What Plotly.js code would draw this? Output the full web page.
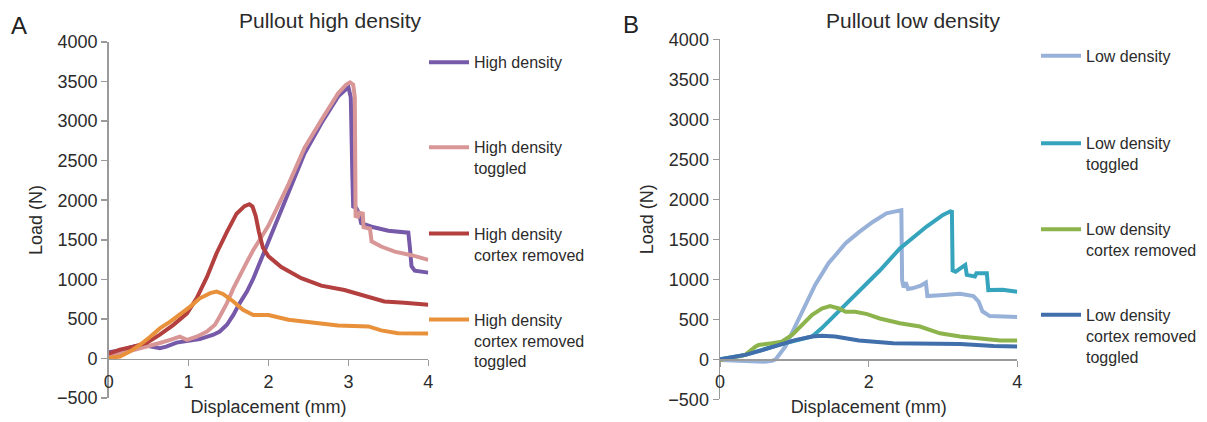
<!DOCTYPE html>
<html>
<head>
<meta charset="utf-8">
<script src="https://cdn.plot.ly/plotly-3.0.1.min.js"></script>
<style>html,body{margin:0;padding:0;background:#fff;}#chart{width:1207px;height:422px;}</style>
</head>
<body>
<div id="chart"></div>
<script>
// ---- Panel A: Pullout high density ----
const hdX = [0, 0.14, 0.31, 0.48, 0.64, 0.72, 0.85, 0.98, 1.14, 1.31, 1.39, 1.48, 1.56, 1.64, 1.73, 1.81, 1.87, 1.95, 2.0, 2.25, 2.45, 2.66, 2.87, 3.0, 3.03, 3.05, 3.06, 3.1, 3.13, 3.16, 3.29, 3.5, 3.75, 3.77, 3.79, 3.83, 4.0];
const hdY = [80, 100, 150, 160, 130, 150, 200, 215, 245, 300, 340, 425, 550, 700, 845, 1010, 1160, 1350, 1470, 2080, 2590, 2970, 3310, 3430, 3300, 2300, 1920, 1900, 1840, 1710, 1665, 1615, 1590, 1400, 1165, 1110, 1085];

const hdtX = [0, 0.14, 0.31, 0.48, 0.64, 0.77, 0.89, 0.98, 1.1, 1.23, 1.33, 1.39, 1.48, 1.56, 1.64, 1.73, 1.81, 1.9, 2.0, 2.25, 2.45, 2.66, 2.87, 2.97, 3.02, 3.06, 3.08, 3.09, 3.12, 3.14, 3.18, 3.19, 3.27, 3.29, 3.41, 3.58, 3.79, 4.0];
const hdtY = [25, 60, 110, 150, 195, 235, 275, 235, 275, 340, 425, 530, 700, 885, 1055, 1220, 1370, 1510, 1680, 2200, 2660, 3010, 3350, 3460, 3490, 3460, 3300, 1800, 1790, 1840, 1830, 1660, 1640, 1480, 1415, 1350, 1305, 1245];

const hdcX = [0, 0.14, 0.31, 0.48, 0.64, 0.81, 0.98, 1.1, 1.23, 1.35, 1.48, 1.6, 1.7, 1.76, 1.8, 1.84, 1.88, 1.93, 2.0, 2.16, 2.41, 2.66, 2.95, 3.16, 3.45, 3.7, 4.0];
const hdcY = [60, 110, 150, 200, 300, 425, 570, 760, 1030, 1330, 1600, 1830, 1925, 1950, 1920, 1800, 1600, 1400, 1290, 1155, 1015, 920, 865, 805, 720, 705, 680];

const hdctX = [0, 0.14, 0.27, 0.39, 0.52, 0.64, 0.77, 0.89, 1.02, 1.14, 1.27, 1.35, 1.43, 1.56, 1.68, 1.81, 1.89, 2.0, 2.25, 2.58, 2.87, 3.25, 3.41, 3.62, 4.0];
const hdctY = [5, 25, 90, 170, 275, 380, 465, 550, 655, 760, 825, 845, 815, 720, 615, 550, 550, 550, 490, 445, 415, 405, 355, 320, 315];

// ---- Panel B: Pullout low density ----
const ldX = [0, 0.2, 0.4, 0.6, 0.7, 0.75, 0.88, 1.01, 1.15, 1.28, 1.46, 1.69, 1.87, 2.06, 2.24, 2.33, 2.44, 2.45, 2.47, 2.5, 2.53, 2.6, 2.7, 2.77, 2.79, 2.96, 3.23, 3.41, 3.48, 3.53, 3.63, 4.0];
const ldY = [-10, -20, -30, -30, -20, 0, 160, 410, 680, 930, 1200, 1450, 1590, 1720, 1825, 1845, 1865, 990, 900, 960, 880, 890, 920, 960, 790, 800, 820, 790, 720, 600, 540, 530];

const ldtX = [0, 0.34, 0.79, 1.06, 1.24, 1.37, 1.51, 1.69, 1.87, 2.0, 2.15, 2.42, 2.78, 3.0, 3.1, 3.12, 3.13, 3.17, 3.23, 3.3, 3.32, 3.43, 3.45, 3.59, 3.61, 3.8, 4.0];
const ldtY = [0, 55, 180, 240, 285, 390, 520, 690, 860, 975, 1110, 1385, 1660, 1805, 1850, 1845, 1110, 1095, 1135, 1180, 1055, 1035, 1075, 1075, 865, 870, 845];

const ldcX = [0, 0.34, 0.48, 0.52, 0.7, 0.83, 0.97, 1.1, 1.24, 1.37, 1.48, 1.6, 1.69, 1.82, 1.98, 2.15, 2.42, 2.69, 2.96, 3.23, 3.5, 3.77, 4.0];
const ldcY = [-10, 55, 160, 180, 200, 220, 305, 430, 555, 635, 665, 635, 595, 595, 565, 510, 450, 410, 325, 285, 260, 235, 235];

const ldctX = [0, 0.34, 0.57, 0.79, 1.01, 1.24, 1.37, 1.55, 1.69, 1.87, 2.33, 2.78, 3.23, 3.68, 4.0];
const ldctY = [0, 55, 115, 180, 240, 285, 295, 285, 260, 235, 200, 190, 190, 165, 160];

const namesA = ['High density', 'High density<br>toggled', 'High density<br>cortex removed', 'High density<br>cortex removed<br>toggled'];
const namesB = ['Low density', 'Low density<br>toggled', 'Low density<br>cortex removed', 'Low density<br>cortex removed<br>toggled'];
const colorsA = ['#7659a8', '#d99696', '#b43f3f', '#e8913a'];
const colorsB = ['#98b1d8', '#36a4bd', '#8db44c', '#416fac'];

const W = 1207, H = 422;
const FONT = 'Liberation Sans, Arial, sans-serif';
const TXT = '#2b2b2b';
const AX = '#9a9a9a';

const seriesA = [[hdX, hdY], [hdtX, hdtY], [hdcX, hdcY], [hdctX, hdctY]];
const seriesB = [[ldX, ldY], [ldtX, ldtY], [ldcX, ldcY], [ldctX, ldctY]];

const traces = [];
seriesA.forEach((s, i) => traces.push({
  x: s[0], y: s[1], type: 'scatter', mode: 'lines', name: namesA[i],
  xaxis: 'x', yaxis: 'y', line: {color: colorsA[i], width: 4},
  legend: i === 0 ? 'legend' : 'legend' + (i + 1)
}));
seriesB.forEach((s, i) => traces.push({
  x: s[0], y: s[1], type: 'scatter', mode: 'lines', name: namesB[i],
  xaxis: 'x2', yaxis: 'y2', line: {color: colorsB[i], width: 4},
  legend: 'legend' + (i + 5)
}));

function px2x(p) { return p / W; }
function px2y(p) { return 1 - p / H; }

const legendTopsA = [60.7, 145.7, 232, 318];
const legendTopsB = [54.3, 141.7, 227.7, 313.3];

function mkLegend(xpx, lineY) {
  return {
    x: px2x(xpx), xanchor: 'left', y: px2y(lineY - 15.4), yanchor: 'top',
    bgcolor: 'rgba(0,0,0,0)', borderwidth: 0, valign: 'top', itemwidth: 40,
    font: {family: FONT, size: 16, color: TXT}, itemclick: false
  };
}

function mkX(domain, pos, dtick) {
  return {
    domain: domain, range: [0, 4], anchor: 'free', position: pos,
    dtick: dtick, tick0: 0, ticks: 'outside', ticklen: 6, tickcolor: AX, tickwidth: 1.5,
    showline: true, linecolor: AX, linewidth: 1.5, showgrid: false, zeroline: false,
    tickfont: {family: FONT, size: 18, color: TXT},
    title: {text: 'Displacement (mm)', font: {family: FONT, size: 18, color: TXT}, standoff: 9},
    fixedrange: true
  };
}
function mkY(domain, anchor) {
  return {
    domain: domain, range: [-500, 4000], anchor: anchor, dtick: 500, tick0: 0,
    ticks: 'outside', ticklen: 6, tickcolor: AX, tickwidth: 1.5,
    showline: true, linecolor: AX, linewidth: 1.5, showgrid: false, zeroline: false,
    tickfont: {family: FONT, size: 18, color: TXT},
    title: {text: 'Load (N)', font: {family: FONT, size: 18, color: TXT}, standoff: 10},
    fixedrange: true
  };
}

const layout = {
  width: W, height: H, margin: {l: 0, r: 0, t: 0, b: 0},
  paper_bgcolor: '#fff', plot_bgcolor: '#fff',
  font: {family: FONT, color: TXT},
  xaxis: mkX([px2x(108.7), px2x(428.3)], px2y(358.7), 1),
  yaxis: mkY([px2y(398), px2y(42)], 'x'),
  xaxis2: mkX([px2x(720), px2x(1017.3)], px2y(359.3), 2),
  yaxis2: mkY([px2y(399.3), px2y(39.3)], 'x2'),
  legend: mkLegend(424, legendTopsA[0]),
  legend2: mkLegend(424, legendTopsA[1]),
  legend3: mkLegend(424, legendTopsA[2]),
  legend4: mkLegend(424, legendTopsA[3]),
  legend5: mkLegend(1036, legendTopsB[0]),
  legend6: mkLegend(1036, legendTopsB[1]),
  legend7: mkLegend(1036, legendTopsB[2]),
  legend8: mkLegend(1036, legendTopsB[3]),
  showlegend: true,
  annotations: [
    {text: 'Pullout high density', xref: 'paper', yref: 'paper', x: px2x(330), y: px2y(20.5), xanchor: 'center', yanchor: 'middle', showarrow: false, font: {family: FONT, size: 21, color: TXT}},
    {text: 'Pullout low density', xref: 'paper', yref: 'paper', x: px2x(912.5), y: px2y(20.5), xanchor: 'center', yanchor: 'middle', showarrow: false, font: {family: FONT, size: 21, color: TXT}},
    {text: 'A', xref: 'paper', yref: 'paper', x: px2x(18.5), y: px2y(26), xanchor: 'center', yanchor: 'middle', showarrow: false, font: {family: FONT, size: 24, color: '#222'}},
    {text: 'B', xref: 'paper', yref: 'paper', x: px2x(630.5), y: px2y(24), xanchor: 'center', yanchor: 'middle', showarrow: false, font: {family: FONT, size: 24, color: '#222'}}
  ]
};

Plotly.newPlot('chart', traces, layout, {displayModeBar: false, staticPlot: true});
</script>
</body>
</html>
